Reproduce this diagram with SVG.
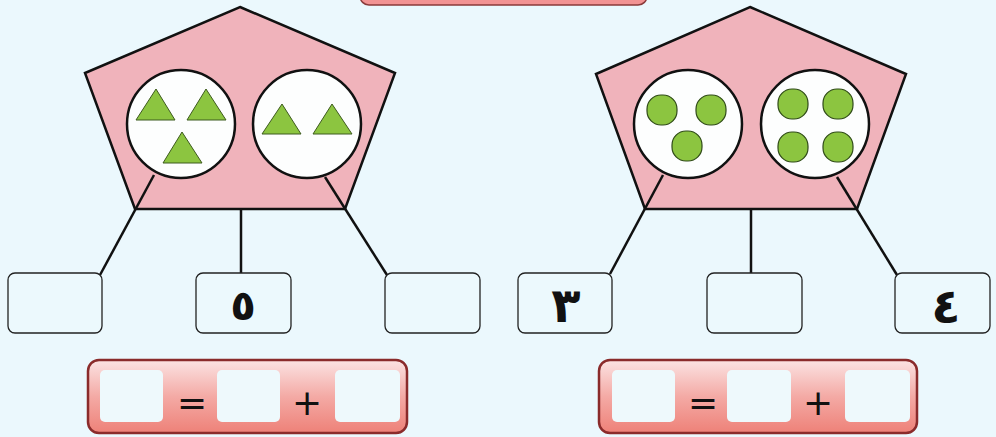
<svg xmlns="http://www.w3.org/2000/svg" width="996" height="437" viewBox="0 0 996 437">
<defs>
<linearGradient id="bar" x1="0" y1="0" x2="0" y2="1">
<stop offset="0" stop-color="#fbe3e3"/>
<stop offset="0.5" stop-color="#f4aaa5"/>
<stop offset="1" stop-color="#ee8178"/>
</linearGradient>
<style>
.pent{fill:#f0b3bb;stroke:#111;stroke-width:2.5;stroke-linejoin:miter}
.circ{fill:#fdfefe;stroke:#111;stroke-width:2.5}
.tri{fill:#8cc540;stroke:#3d5a1e;stroke-width:1}
.dot{fill:#8cc540;stroke:#2f4a18;stroke-width:1.2}
.box{fill:#ecf9fd;stroke:#222;stroke-width:1.3}
.con{stroke:#111;stroke-width:2.5;fill:none}
.bar{fill:url(#bar);stroke:#8a2b2b;stroke-width:2.5}
.slot{fill:#eef9fc}
.num{font-family:"DejaVu Sans",sans-serif;font-weight:bold;font-size:48px;fill:#111;text-anchor:middle}
.op{font-family:"DejaVu Sans",sans-serif;font-size:36px;fill:#111;text-anchor:middle}
</style>
</defs>
<rect width="996" height="437" fill="#ebf8fd"/>
<g id="title">
<rect x="360" y="-20" width="287" height="25" rx="9" fill="#f29393" stroke="#8a3a3a" stroke-width="1.5"/>
</g>
<g id="pentagon-left">
<polygon class="pent" points="240,7 395,73 345,209 135,209 85,73"/>
<circle class="circ" cx="181" cy="124" r="54"/>
<circle class="circ" cx="307" cy="124" r="54"/>
<polygon class="tri" points="136,120 175,120 156,89"/>
<polygon class="tri" points="187,120 226,120 206,89"/>
<polygon class="tri" points="163,163 202,163 182,132"/>
<polygon class="tri" points="262,134 301,134 282,104"/>
<polygon class="tri" points="313,134 352,134 332,104"/>
</g>
<g id="pentagon-right">
<polygon class="pent" points="750,7 906,74 857,209 645,209 596,74"/>
<circle class="circ" cx="688" cy="124" r="54"/>
<circle class="circ" cx="815" cy="124" r="54"/>
<rect class="dot" x="647" y="95" width="30" height="30" rx="14"/>
<rect class="dot" x="696" y="95" width="30" height="30" rx="14"/>
<rect class="dot" x="672" y="131" width="30" height="30" rx="14"/>
<rect class="dot" x="778" y="89" width="30" height="30" rx="14"/>
<rect class="dot" x="823" y="89" width="30" height="30" rx="14"/>
<rect class="dot" x="778" y="132" width="30" height="30" rx="14"/>
<rect class="dot" x="823" y="132" width="30" height="30" rx="14"/>
</g>
<g id="connectors">
<line class="con" x1="154" y1="175" x2="100" y2="275"/>
<line class="con" x1="241" y1="209" x2="241" y2="273"/>
<line class="con" x1="325" y1="177" x2="387" y2="275"/>
<line class="con" x1="663" y1="175" x2="610" y2="274"/>
<line class="con" x1="751" y1="209" x2="751" y2="273"/>
<line class="con" x1="837" y1="177" x2="897" y2="275"/>
</g>
<g id="box-l1"><rect class="box" x="8" y="273" width="94" height="60" rx="7"/></g>
<g id="box-l2"><rect class="box" x="196" y="273" width="95" height="60" rx="7"/><text class="num" x="243" y="320" style="font-size:42px">٥</text></g>
<g id="box-l3"><rect class="box" x="385" y="273" width="95" height="60" rx="7"/></g>
<g id="box-r1"><rect class="box" x="518" y="273" width="94" height="60" rx="7"/><text class="num" x="566" y="322">٣</text></g>
<g id="box-r2"><rect class="box" x="707" y="273" width="95" height="60" rx="7"/></g>
<g id="box-r3"><rect class="box" x="895" y="273" width="95" height="60" rx="7"/><text class="num" x="946" y="323">٤</text></g>
<g id="equation-left">
<rect class="bar" x="88" y="360" width="319" height="73" rx="11"/>
<rect class="slot" x="100" y="370" width="63" height="52" rx="5"/>
<rect class="slot" x="217" y="370" width="63" height="52" rx="5"/>
<rect class="slot" x="335" y="370" width="65" height="52" rx="5"/>
<text class="op" x="192" y="415">=</text>
<text class="op" x="307" y="415">+</text>
</g>
<g id="equation-right">
<rect class="bar" x="599" y="360" width="318" height="73" rx="11"/>
<rect class="slot" x="612" y="370" width="63" height="52" rx="5"/>
<rect class="slot" x="727" y="370" width="64" height="52" rx="5"/>
<rect class="slot" x="845" y="370" width="65" height="52" rx="5"/>
<text class="op" x="703" y="415">=</text>
<text class="op" x="818" y="415">+</text>
</g>
</svg>
